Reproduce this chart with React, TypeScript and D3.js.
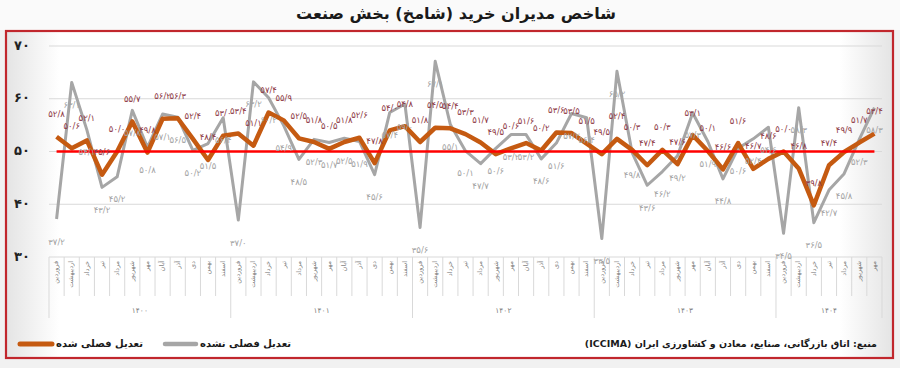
import { scaleBand, scaleLinear, line } from "d3";

const months = ["فروردین", "اردیبهشت", "خرداد", "تیر", "مرداد", "شهریور", "مهر", "آبان", "آذر", "دی", "بهمن", "اسفند"];
const years = ["۱۴۰۰", "۱۴۰۱", "۱۴۰۲", "۱۴۰۳", "۱۴۰۴"];
const yearMonths = [12, 12, 12, 12, 7];

// seasonally adjusted
const adjusted = [
  52.8, 50.6, 52.1, 45.6, 50.0, 55.7, 49.8, 56.2, 56.3, 52.4, 48.4, 53.0,
  53.4, 51.1, 57.4, 55.9, 52.5, 51.8, 50.5, 51.8, 52.6, 47.8, 54.0, 54.8,
  51.8, 54.5, 54.4, 53.3, 51.7, 49.5, 50.6, 51.6, 50.2, 53.6, 53.5, 51.5,
  49.5, 52.4, 50.3, 47.4, 50.3, 47.6, 53.1, 50.1, 46.6, 51.6, 46.7, 48.6,
  50.0, 46.8, 39.8, 47.4, 49.9, 51.7, 53.4,
];
// not seasonally adjusted
const unadjusted = [
  37.2, 63.1, 54.1, 43.2, 45.2, 57.8, 50.8, 57.1, 56.5, 50.2, 51.5, 56.4,
  37.0, 63.2, 60.2, 54.9, 48.5, 52.3, 51.7, 52.5, 51.9, 45.6, 57.4, 59.0,
  35.6, 67.1, 55.1, 50.1, 47.7, 50.6, 53.2, 53.2, 48.6, 51.6, 57.2, 56.4,
  33.5, 65.2, 49.8, 43.6, 46.2, 49.2, 57.3, 51.9, 44.8, 50.6, 52.4, 54.6,
  34.5, 58.3, 36.5, 42.7, 45.8, 52.3, 58.3,
];
const yTicks = [30, 40, 50, 60, 70];

const W = 900;
const H = 368;
const left = 49;
const right = 882;
const top = 46;
const bottom = 257;

const fa = (s: string) => s.replace(/[0-9]/g, (d) => "۰۱۲۳۴۵۶۷۸۹"[+d]);
const fmt = (v: number) => fa(v.toFixed(1).replace(".", "/"));
const rtl = (s: string) => "\u202B" + s + "\u202C";

const FONT = "DejaVu Sans";

export default function App() {
  const idx = adjusted.map((_, i) => i);
  const x = scaleBand<number>().domain(idx).range([left, right]).padding(0);
  const bw = x.bandwidth();
  const cx = (i: number) => (x(i) as number) + bw / 2;
  const y = scaleLinear().domain([30, 70]).range([bottom, top]);

  const path = line<number>()
    .x((_, i) => cx(i))
    .y((d) => y(d));

  // year boundaries
  const starts: number[] = [];
  let acc = 0;
  yearMonths.forEach((n) => {
    starts.push(acc);
    acc += n;
  });

  return (
    <svg
      width={W}
      height={H}
      style={{ position: "absolute", left: 0, top: 0 }}
      fontFamily={FONT}
    >
      <defs>
        <linearGradient id="card" x1="0" x2="1" y1="0" y2="0">
          <stop offset="0" stopColor="#e4e4e4" />
          <stop offset="0.06" stopColor="#ffffff" />
          <stop offset="0.94" stopColor="#ffffff" />
          <stop offset="1" stopColor="#e4e4e4" />
        </linearGradient>
      </defs>
      <rect width={W} height={H} fill="#f1f1f1" />
      <rect x={0} y={0} width={W} height={30} fill="#fafafa" />
      <text
        x={456}
        y={14}
        textAnchor="middle"
        dominantBaseline="middle"
        fontSize={16}
        fontWeight="bold"
        fill="#1a1a1a"
      >
        {rtl("شاخص مدیران خرید (شامخ) بخش صنعت")}
      </text>
      <rect x={6} y={31} width={887} height={327} fill="url(#card)" stroke="#c1272d" strokeWidth={2.2} />

      {/* grid */}
      {yTicks.map((t) => (
        <g key={t}>
          <line x1={left} x2={right} y1={y(t)} y2={y(t)} stroke="#d9d9d9" strokeWidth={1} />
          <text
            x={22}
            y={y(t)}
            textAnchor="middle"
            dominantBaseline="middle"
            fontSize={13}
            fontWeight="bold"
            fill="#222"
          >
            {fa(String(t))}
          </text>
        </g>
      ))}

      {/* category axis */}
      {idx.map((i) => (
        <line
          key={"t" + i}
          x1={x(i)}
          x2={x(i)}
          y1={bottom}
          y2={starts.includes(i) ? 318 : 296}
          stroke="#d9d9d9"
        />
      ))}
      <line x1={right} x2={right} y1={bottom} y2={318} stroke="#d9d9d9" />
      {idx.map((i) => (
        <text
          key={"m" + i}
          transform={`translate(${cx(i)},261) rotate(-90)`}
          textAnchor="end"
          dominantBaseline="middle"
          fontSize={6.5}
          fill="#7f7f7f"
        >
          {months[i % 12]}
        </text>
      ))}
      {years.map((yr, k) => {
        const a = x(starts[k]) as number;
        const b = a + bw * yearMonths[k];
        return (
          <text
            key={yr}
            x={(a + b) / 2}
            y={311}
            textAnchor="middle"
            dominantBaseline="middle"
            fontSize={7.5}
            fill="#7f7f7f"
          >
            {yr}
          </text>
        );
      })}

      {/* series */}
      <path d={path(unadjusted) || ""} fill="none" stroke="#a6a6a6" strokeWidth={3} strokeLinejoin="round" />
      <path d={path(adjusted) || ""} fill="none" stroke="#c55a11" strokeWidth={4.5} strokeLinejoin="round" />
      <line
        x1={cx(0)}
        x2={cx(idx.length - 1)}
        y1={y(50)}
        y2={y(50)}
        stroke="#ff0000"
        strokeWidth={2.5}
      />

      {/* data labels */}
      {unadjusted.map((v, i) => (
        <text
          key={"gl" + i}
          x={cx(i)}
          y={y(v) + 23}
          textAnchor="middle"
          dominantBaseline="middle"
          fontSize={8.5}
          fill="#a3a3a3"
        >
          {fmt(v)}
        </text>
      ))}
      {adjusted.map((v, i) => (
        <text
          key={"ol" + i}
          x={cx(i)}
          y={y(v) - 22}
          textAnchor="middle"
          dominantBaseline="middle"
          fontSize={8.5}
          fill="#8e3a46"
        >
          {fmt(v)}
        </text>
      ))}

      {/* legend */}
      <line x1={20} x2={52} y1={344} y2={344} stroke="#c55a11" strokeWidth={5} strokeLinecap="round" />
      <text x={56} y={344} dominantBaseline="middle" fontSize={10} fontWeight="bold" fill="#1a1a1a">
        {rtl("تعدیل فصلی شده")}
      </text>
      <line x1={165} x2={196} y1={344} y2={344} stroke="#a6a6a6" strokeWidth={4.5} strokeLinecap="round" />
      <text x={200} y={344} dominantBaseline="middle" fontSize={10} fontWeight="bold" fill="#1a1a1a">
        {rtl("تعدیل فصلی نشده")}
      </text>
      <text
        x={877}
        y={344}
        textAnchor="end"
        dominantBaseline="middle"
        fontSize={9.5}
        fontWeight="bold"
        fill="#1a1a1a"
      >
        {rtl("منبع: اتاق بازرگانی، صنایع، معادن و کشاورزی ایران (ICCIMA)")}
      </text>
    </svg>
  );
}
